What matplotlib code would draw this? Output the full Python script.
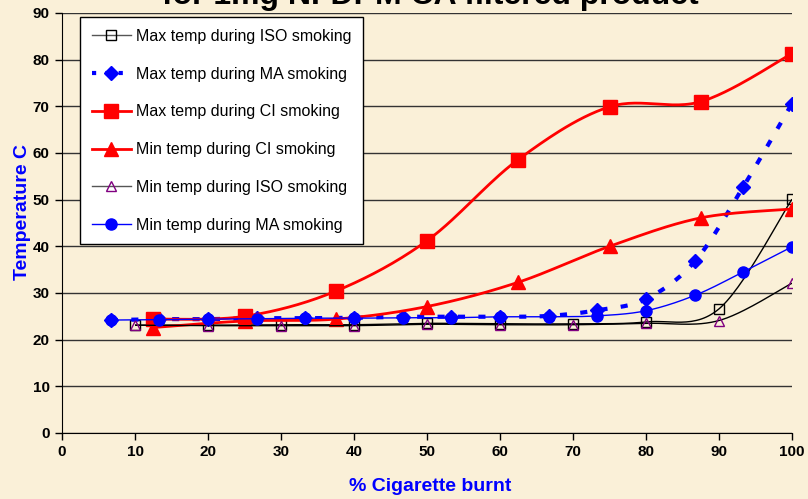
import numpy as np
import matplotlib
matplotlib.use("Agg")
import matplotlib.pyplot as plt

plt.rcParams['font.family'] = ['Liberation Sans', 'DejaVu Sans']

# ---------------- data ----------------
x_iso = [10, 20, 30, 40, 50, 60, 70, 80, 90, 100]
max_iso = [23.1, 23.1, 23.2, 23.2, 23.5, 23.4, 23.4, 23.8, 26.6, 50.1]
min_iso = [23.1, 23.0, 23.0, 23.0, 23.3, 23.2, 23.2, 23.5, 24.1, 32.1]

x_ma = [6.7, 13.3, 20, 26.7, 33.3, 40, 46.7, 53.3, 60, 66.7, 73.3, 80, 86.7, 93.3, 100]
max_ma = [24.2, 24.4, 24.4, 24.6, 24.6, 24.7, 24.9, 24.9, 24.9, 25.1, 26.3, 28.7, 36.8, 52.7, 70.6]
min_ma = [24.2, 24.3, 24.4, 24.5, 24.6, 24.6, 24.7, 24.7, 24.9, 24.9, 25.1, 26.2, 29.5, 34.5, 39.9]

x_ci = [12.5, 25, 37.5, 50, 62.5, 75, 87.5, 100]
max_ci = [24.4, 25.0, 30.4, 41.2, 58.6, 69.9, 71.0, 81.3]
min_ci = [22.6, 24.0, 24.4, 27.1, 32.3, 40.0, 46.1, 48.0]

labels = ["Max temp during ISO smoking", "Max temp during MA smoking",
          "Max temp during CI smoking", "Min temp during CI smoking",
          "Min temp during ISO smoking", "Min temp during MA smoking"]

title = "for 1mg NFDPM CA filtered product"
xticks = list(range(0, 101, 10))
yticks = list(range(0, 91, 10))


def smooth(xs, ys, n=30):
    """Excel-style smoothed line (Catmull-Rom Bezier through the points)."""
    p = np.column_stack([xs, ys]).astype(float)
    out = []
    for i in range(len(p) - 1):
        p0 = p[i - 1] if i > 0 else p[i]
        p1 = p[i]
        p2 = p[i + 1]
        p3 = p[i + 2] if i + 2 < len(p) else p[i + 1]
        c1 = p1 + (p2 - p0) / 6.0
        c2 = p2 - (p3 - p1) / 6.0
        t = np.linspace(0, 1, n)[:, None]
        seg = ((1 - t) ** 3) * p1 + 3 * ((1 - t) ** 2) * t * c1 + 3 * (1 - t) * t ** 2 * c2 + t ** 3 * p2
        out.append(seg if i == 0 else seg[1:])
    s = np.vstack(out)
    return s[:, 0], s[:, 1]


bg = '#FAF0D8'
fig = plt.figure(figsize=(8.08, 4.99), dpi=100, facecolor=bg)
ax = fig.add_axes([62 / 808, 1 - 433 / 499, 730 / 808, 420 / 499])
ax.set_facecolor(bg)

series = [
    (x_iso, max_iso, dict(color='black', lw=1.0), dict(marker='s', ms=7.5, mfc='none', mec='black', mew=1.0)),
    (x_ma, max_ma, dict(color='#0000FF', lw=3.0, dashes=(1.7, 3.2)), dict(marker='D', ms=7.5, mfc='#0000FF', mec='#0000FF')),
    (x_ci, max_ci, dict(color='#FF0000', lw=2.0), dict(marker='s', ms=9.5, mfc='#FF0000', mec='#FF0000')),
    (x_ci, min_ci, dict(color='#FF0000', lw=2.0), dict(marker='^', ms=10, mfc='#FF0000', mec='#FF0000')),
    (x_iso, min_iso, dict(color='black', lw=1.0), dict(marker='^', ms=7.5, mfc='none', mec='#800080', mew=1.0)),
    (x_ma, min_ma, dict(color='#0000FF', lw=1.0), dict(marker='o', ms=8, mfc='#0000FF', mec='#0000FF')),
]

handles = []
for k, (xs, ys, lkw, mkw) in enumerate(series):
    sx, sy = smooth(xs, ys)
    ax.plot(sx, sy, zorder=3 + k, solid_capstyle='butt', dash_capstyle='butt', **lkw)
    ax.plot(xs, ys, ls='none', zorder=3 + k, **mkw)
    lh = dict(lkw)
    if 'dashes' in lh:
        lh['dashes'] = (1.0, 2.2)
    if lh['color'] == 'black':
        lh['color'] = '#555555'
    h, = ax.plot([], [], label=labels[k], **lh, **mkw)
    handles.append(h)

ax.set_xlim(0, 100)
ax.set_ylim(0, 90)
ax.set_xticks(xticks)
ax.set_yticks(yticks)
ax.tick_params(direction='out', length=5, width=1, labelsize=11, pad=4)
for lab in ax.get_xticklabels() + ax.get_yticklabels():
    lab.set_fontweight('bold')
ax.yaxis.grid(True, color='#333333', lw=1.0)
ax.set_axisbelow(True)
for s in ['top', 'right']:
    ax.spines[s].set_visible(False)
ax.spines['left'].set_color('black')
ax.spines['bottom'].set_color('black')

ax.set_xlabel("% Cigarette burnt", color='#0000FF', fontsize=14, fontweight='bold')
ax.xaxis.set_label_coords(0.504, -0.108)
ax.set_ylabel("Temperature C", color='#0000FF', fontsize=14, fontweight='bold')
ax.yaxis.set_label_coords(-0.043, 0.525)

leg = ax.legend(handles=handles, loc='upper left', bbox_to_anchor=(0.0247, 0.99),
                borderaxespad=0, fontsize=11.5, frameon=True, fancybox=False,
                edgecolor='black', framealpha=1, handlelength=2.5, labelspacing=1.43,
                borderpad=0.72, handletextpad=0.3)
leg.get_frame().set_linewidth(1.0)
leg.set_zorder(20)

fig.text(0.532, 0.991, title, ha='center', va='baseline', fontsize=23, fontweight='bold')

fig.savefig('out.png', dpi=100, facecolor=bg)
